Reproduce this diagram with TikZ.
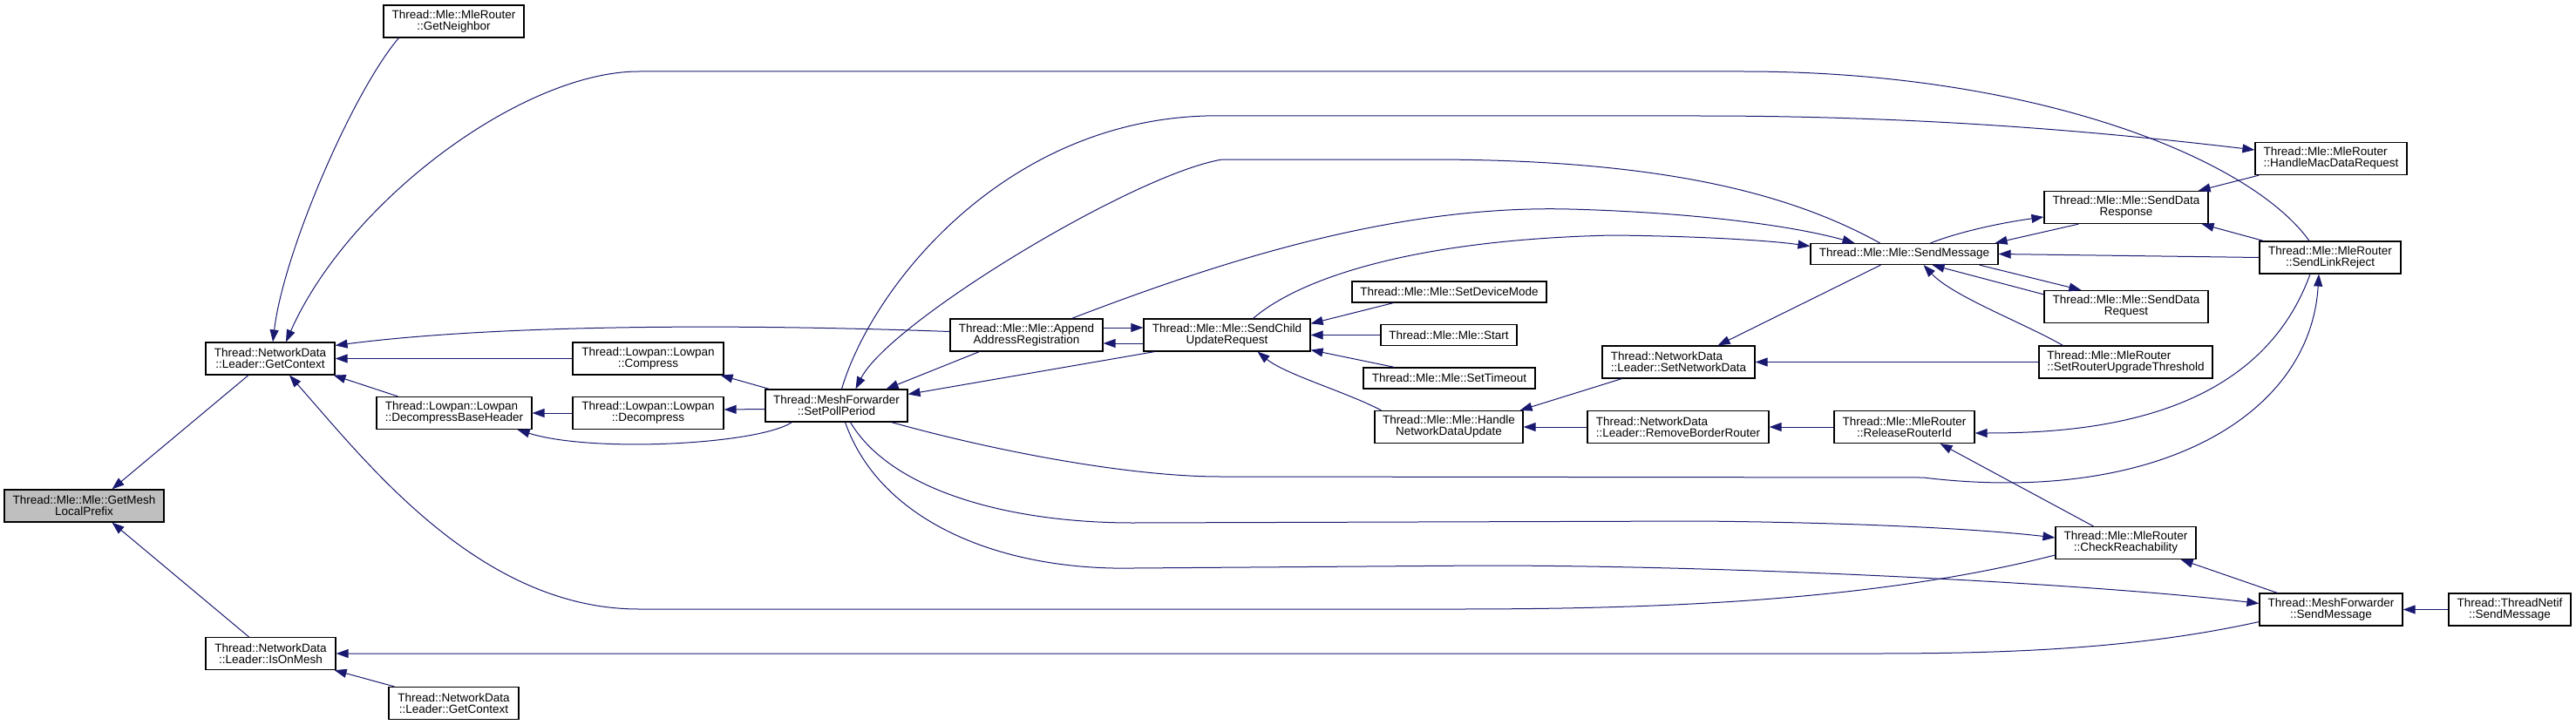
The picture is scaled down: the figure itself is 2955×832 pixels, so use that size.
\documentclass[tikz,border=0pt]{standalone}
\usepackage{fontspec}
\setmainfont{Liberation Sans}
\usetikzlibrary{arrows.meta,calc}
\definecolor{midnightblue}{RGB}{25,25,112}
\definecolor{rootgray}{RGB}{191,191,191}
\tikzset{
  box/.style={draw=black, line width=1.2pt, fill=white, inner sep=0pt, align=center,
    font=\fontsize{13.5}{13}\selectfont},
  lbox/.style={box, align=left},
  two/.style={minimum height=37pt},
  one/.style={minimum height=24pt},
  edge/.style={draw=midnightblue, line width=1pt, -{Triangle[length=14pt,width=10pt]}},
}
\begin{document}
\begin{tikzpicture}[x=1pt,y=-1pt]
\useasboundingbox (0,0) rectangle (2955,832);
% nodes
\node[box,two,fill=rootgray,minimum width=183pt] (gmlp) at (96.5,580.5) {Thread::Mle::Mle::GetMesh\\LocalPrefix};
\node[box,two,minimum width=148pt] (gc1) at (310,411.5) {Thread::NetworkData\\::Leader::GetContext};
\node[box,two,minimum width=149pt] (ion) at (310.5,750) {Thread::NetworkData\\::Leader::IsOnMesh};
\node[box,two,minimum width=149pt] (gc2) at (520.5,807) {Thread::NetworkData\\::Leader::GetContext};
\node[box,two,minimum width=161pt] (gn) at (520.5,24.5) {Thread::Mle::MleRouter\\::GetNeighbor};
\node[box,two,minimum width=173pt] (cmp) at (743.5,411.5) {Thread::Lowpan::Lowpan\\::Compress};
\node[lbox,two,minimum width=178pt] (dbh) at (521,474) {Thread::Lowpan::Lowpan\\::DecompressBaseHeader};
\node[box,two,minimum width=173pt] (dcp) at (743.5,474) {Thread::Lowpan::Lowpan\\::Decompress};
\node[box,two,minimum width=163pt] (spp) at (959.5,465.5) {Thread::MeshForwarder\\::SetPollPeriod};
\node[box,two,minimum width=175pt] (app) at (1177.5,384.5) {Thread::Mle::Mle::Append\\AddressRegistration};
\node[box,two,minimum width=191pt] (scu) at (1407.5,384.5) {Thread::Mle::Mle::SendChild\\UpdateRequest};
\node[box,one,minimum width=223pt] (sdm) at (1662.5,335) {Thread::Mle::Mle::SetDeviceMode};
\node[box,one,minimum width=156pt] (sta) at (1662,384.5) {Thread::Mle::Mle::Start};
\node[box,one,minimum width=197pt] (sto) at (1662.5,434) {Thread::Mle::Mle::SetTimeout};
\node[box,two,minimum width=170pt] (hndu) at (1662,490) {Thread::Mle::Mle::Handle\\NetworkDataUpdate};
\node[lbox,two,minimum width=175pt] (snd) at (1925.5,415.5) {Thread::NetworkData\\::Leader::SetNetworkData};
\node[lbox,two,minimum width=208pt] (rbr) at (1925,490) {Thread::NetworkData\\::Leader::RemoveBorderRouter};
\node[box,one,minimum width=215pt] (smsg) at (2184.5,291.5) {Thread::Mle::Mle::SendMessage};
\node[box,two,minimum width=188pt] (sdres) at (2439,238) {Thread::Mle::Mle::SendData\\Response};
\node[box,two,minimum width=188pt] (sdreq) at (2439,352) {Thread::Mle::Mle::SendData\\Request};
\node[lbox,two,minimum width=199pt] (srut) at (2438.5,415.5) {Thread::Mle::MleRouter\\::SetRouterUpgradeThreshold};
\node[lbox,two,minimum width=174pt] (hmdr) at (2674,182) {Thread::Mle::MleRouter\\::HandleMacDataRequest};
\node[box,two,minimum width=162pt] (slr) at (2673,295.5) {Thread::Mle::MleRouter\\::SendLinkReject};
\node[box,two,minimum width=161pt] (rri) at (2184.5,490) {Thread::Mle::MleRouter\\::ReleaseRouterId};
\node[box,two,minimum width=161pt] (cr) at (2438.5,623) {Thread::Mle::MleRouter\\::CheckReachability};
\node[box,two,minimum width=164pt] (mfsm) at (2674,699.5) {Thread::MeshForwarder\\::SendMessage};
\node[box,two,minimum width=140pt] (tnsm) at (2879,699.5) {Thread::ThreadNetif\\::SendMessage};
% edges
\draw[edge] ($(gc1.south)+(-25,0)$) -- ($(gmlp.north)+(32,0)$);
\draw[edge] ($(ion.north)+(-25,0)$) -- ($(gmlp.south)+(32,0)$);
\draw[edge] ($(gn.south west)+(18,0)$) .. controls (405,105) and (325,290) .. ($(gc1.north)+(3,0)$);
\draw[edge] ($(slr.north)+(-24,0)$) .. controls (2580,180) and (2330,82) .. (2000,82) -- (733,82) .. controls (600,82) and (400,230) .. ($(gc1.north)+(18,0)$);
\draw[edge] ($(app.west)+(0,-4)$) .. controls (800,370) and (550,375) .. ($(gc1.north east)+(0,4)$);
\draw[edge] (cmp.west) -- (gc1.east);
\draw[edge] ($(dbh.north west)+(25,0)$) -- ($(gc1.south east)+(-2,0)$);
\draw[edge] ($(cr.west)+(0,14)$) .. controls (2150,690) and (1900,699) .. (1670,699) -- (733,699) .. controls (550,699) and (420,530) .. ($(gc1.south)+(22,0)$);
\draw[edge] (dcp.west) -- (dbh.east);
\draw[edge] ($(spp.south west)+(31,0)$) .. controls (870,510) and (680,520) .. ($(dbh.south east)+(-17,0)$);
\draw[edge] ($(spp.north west)+(5,0)$) -- ($(cmp.south east)+(-4,0)$);
\draw[edge] ($(spp.west)+(0,4)$) -- ($(dcp.east)+(0,-4)$);
\draw[edge] ($(app.south west)+(34,0)$) -- ($(spp.north east)+(-25,0)$);
\draw[edge] ($(scu.south west)+(13,0)$) -- ($(spp.east)+(0,-13)$);
\draw[edge] ($(app.east)+(0,-8.5)$) -- ($(scu.west)+(0,-8.5)$);
\draw[edge] ($(scu.west)+(0,9.5)$) -- ($(app.east)+(0,9.5)$);
\draw[edge] ($(smsg.north)+(-28,0)$) .. controls (2050,220) and (1900,183) .. (1638,183) -- (1402,183) .. controls (1300,200) and (1020,370) .. ($(spp.north)+(22,0)$);
\draw[edge] ($(spp.north)+(6,0)$) .. controls (1000,330) and (1150,140) .. (1383,133) -- (1950,133) .. controls (2200,133) and (2400,150) .. ($(hmdr.west)+(0,-10)$);
\draw[edge] ($(app.north)+(52,0)$) .. controls (1400,300) and (1600,235) .. (1800,240) .. controls (1950,244) and (2060,260) .. ($(smsg.north)+(-57,0)$);
\draw[edge] ($(scu.north)+(30,0)$) .. controls (1490,320) and (1620,275) .. (1850,270) .. controls (1950,271) and (2030,276) .. ($(smsg.west)+(0,-9)$);
\draw[edge] ($(sdm.south west)+(48,0)$) -- ($(scu.north east)+(0,6)$);
\draw[edge] (sta.west) -- (scu.east);
\draw[edge] ($(sto.north west)+(36,0)$) -- ($(scu.south east)+(0,-2)$);
\draw[edge] ($(hndu.north west)+(8,0)$) .. controls (1545,450) and (1475,430) .. ($(scu.south)+(35,0)$);
\draw[edge] ($(snd.south west)+(23,0)$) -- ($(hndu.north east)+(-4,0)$);
\draw[edge] (rbr.west) -- (hndu.east);
\draw[edge] ($(smsg.south)+(-27,0)$) -- ($(snd.north east)+(-43,0)$);
\draw[edge] (srut.west) -- (snd.east);
\draw[edge] ($(smsg.north east)+(-78,0)$) .. controls (2250,265) and (2300,255) .. ($(sdres.west)+(0,11)$);
\draw[edge] ($(sdres.south west)+(40,0)$) -- ($(smsg.north east)+(-4,0)$);
\draw[edge] (slr.west) -- (smsg.east);
\draw[edge] ($(smsg.south east)+(-22,0)$) -- ($(sdreq.north west)+(43,0)$);
\draw[edge] ($(sdreq.north west)+(0,5)$) -- ($(smsg.south)+(32,0)$);
\draw[edge] ($(srut.north west)+(28,0)$) .. controls (2320,370) and (2240,340) .. ($(smsg.south)+(22,0)$);
\draw[edge] ($(hmdr.south west)+(5,0)$) -- ($(sdres.north east)+(-12,0)$);
\draw[edge] ($(slr.north west)+(5,0)$) -- ($(sdres.south east)+(-8,0)$);
\draw[edge] (rri.west) -- (rbr.east);
\draw[edge] ($(slr.south)+(-23,0)$) .. controls (2590,480) and (2400,497) .. ($(rri.east)+(0,7)$);
\draw[edge] ($(spp.south east)+(-19,0)$) .. controls (1150,520) and (1300,547) .. (1400,547) -- (2206,548) .. controls (2470,580) and (2650,480) .. ($(slr.south)+(-13,0)$);
\draw[edge] ($(cr.north west)+(44,0)$) -- ($(rri.south)+(41,0)$);
\draw[edge] ($(spp.south)+(16,0)$) .. controls (1020,560) and (1150,600) .. (1300,600) -- (1950,598) .. controls (2150,600) and (2280,608) .. ($(cr.west)+(0,-6)$);
\draw[edge] ($(spp.south)+(10,0)$) .. controls (1010,600) and (1150,655) .. (1300,652) -- (1700,649) .. controls (2000,649) and (2400,670) .. ($(mfsm.west)+(0,-7)$);
\draw[edge] ($(mfsm.west)+(0,14)$) .. controls (2450,745) and (2300,750) .. (2150,750) -- (ion.east);
\draw[edge] ($(mfsm.north west)+(21,0)$) -- ($(cr.south east)+(-18,0)$);
\draw[edge] (tnsm.west) -- (mfsm.east);
\draw[edge] ($(gc2.north west)+(7,0)$) -- ($(ion.south east)+(-2,0)$);
\end{tikzpicture}
\end{document}
